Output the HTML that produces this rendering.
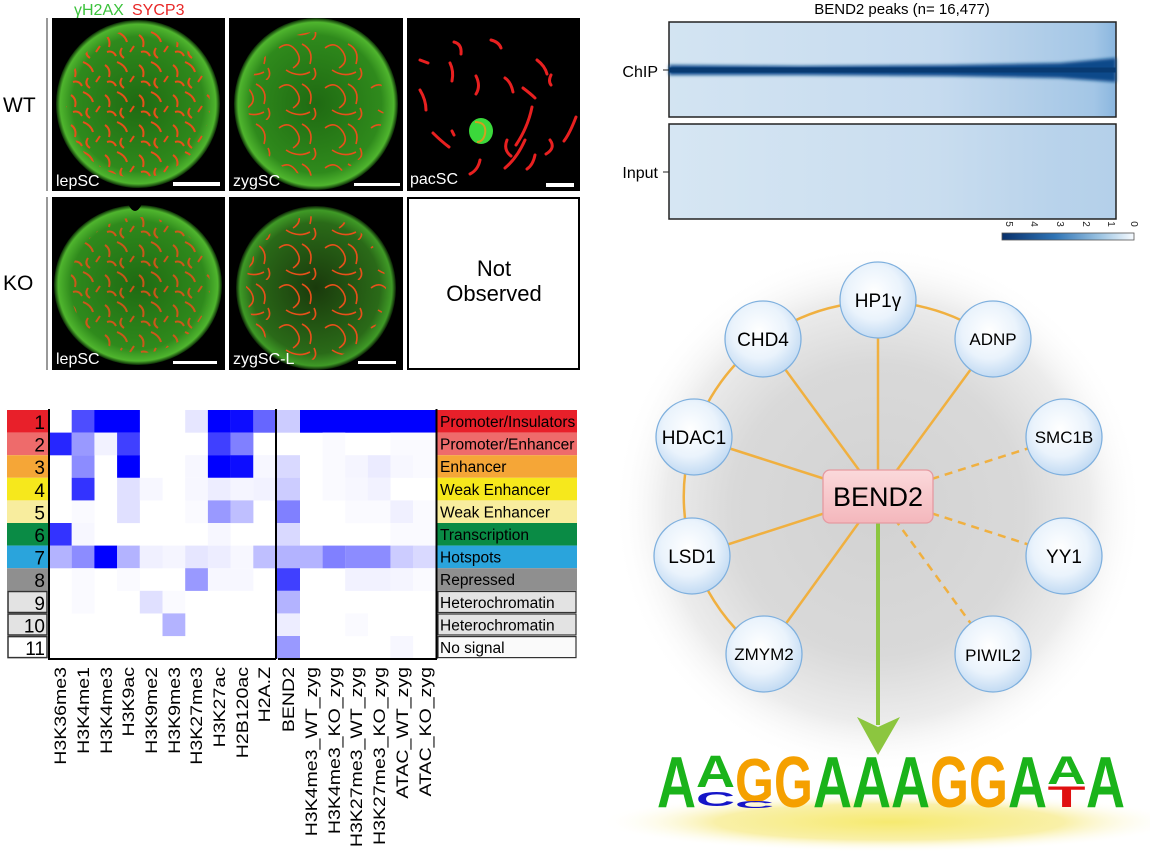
<!DOCTYPE html>
<html><head><meta charset="utf-8"><style>
html,body{margin:0;padding:0;background:#fff;}
svg{display:block;}
</style></head><body>
<svg width="1150" height="851" viewBox="0 0 1150 851" xmlns="http://www.w3.org/2000/svg" font-family="Liberation Sans, Arial, sans-serif">
<defs>
<radialGradient id="glow" cx="878" cy="510" r="265" gradientUnits="userSpaceOnUse">
<stop offset="0" stop-color="#d2d2d2"/><stop offset="0.55" stop-color="#d9d9d9"/><stop offset="0.8" stop-color="#ececec"/><stop offset="1" stop-color="#ffffff" stop-opacity="0"/>
</radialGradient>
<radialGradient id="node" cx="0.45" cy="0.4" r="0.6">
<stop offset="0" stop-color="#ffffff"/><stop offset="0.6" stop-color="#eaf3fc"/><stop offset="1" stop-color="#c3dbf3"/>
</radialGradient>
<linearGradient id="bend" x1="0" y1="0" x2="0" y2="1">
<stop offset="0" stop-color="#fbd9db"/><stop offset="1" stop-color="#f4b7bc"/>
</linearGradient>
<radialGradient id="yel" cx="0.5" cy="0.5" r="0.5">
<stop offset="0" stop-color="#f6ea70"/><stop offset="0.6" stop-color="#f9f0a8"/><stop offset="1" stop-color="#ffffff" stop-opacity="0"/>
</radialGradient>
<radialGradient id="gblob" cx="0.5" cy="0.5" r="0.5">
<stop offset="0" stop-color="#1f6a12"/><stop offset="0.8" stop-color="#2f8a1c"/><stop offset="0.95" stop-color="#4fb52e"/><stop offset="1" stop-color="#0a2a05"/>
</radialGradient>
<radialGradient id="gblob2" cx="0.5" cy="0.5" r="0.5">
<stop offset="0" stop-color="#1a3a0c"/><stop offset="0.8" stop-color="#2a6a18"/><stop offset="0.95" stop-color="#3f9a26"/><stop offset="1" stop-color="#0a2005"/>
</radialGradient>
<pattern id="sq" width="34" height="30" patternUnits="userSpaceOnUse">
<g fill="none" stroke="#e8501a" stroke-width="2">
<path d="M3 5 q6 4 4 12"/><path d="M15 2 q8 3 10 10"/><path d="M20 18 q-4 6 2 10"/><path d="M5 22 q6 -2 9 4"/><path d="M28 22 l4 -6"/>
</g></pattern>
<pattern id="sq2" width="46" height="40" patternUnits="userSpaceOnUse">
<g fill="none" stroke="#e8501a" stroke-width="1.6">
<path d="M3 8 q10 -8 18 4 q6 10 -4 16"/><path d="M26 4 q12 6 8 20"/><path d="M10 30 q12 8 24 2"/><path d="M38 28 q4 8 -2 12"/>
</g></pattern>
<linearGradient id="chip" x1="0" y1="0" x2="1" y2="0">
<stop offset="0" stop-color="#d3e4f2"/><stop offset="0.6" stop-color="#c6dbef"/><stop offset="0.8" stop-color="#b3cfe9"/><stop offset="0.95" stop-color="#a3c6e6"/><stop offset="1" stop-color="#8ab6df"/>
</linearGradient>
<linearGradient id="inp" x1="0" y1="0" x2="1" y2="0">
<stop offset="0" stop-color="#d6e6f3"/><stop offset="0.6" stop-color="#c9ddef"/><stop offset="0.85" stop-color="#b9d3eb"/><stop offset="1" stop-color="#b4d0ea"/>
</linearGradient>
<linearGradient id="cbar" x1="0" y1="0" x2="1" y2="0">
<stop offset="0" stop-color="#08306b"/><stop offset="0.4" stop-color="#2f74b5"/><stop offset="0.75" stop-color="#9ec5e3"/><stop offset="1" stop-color="#f7fbff"/>
</linearGradient>
<filter id="blur2"><feGaussianBlur stdDeviation="1.5"/></filter>
</defs>

<circle cx="878" cy="510" r="265" fill="url(#glow)"/>

<!-- ===== micrographs ===== -->
<text x="74" y="15" font-size="16" fill="#3cc23c">γH2AX</text>
<text x="132" y="15" font-size="16" fill="#e82828">SYCP3</text>
<text x="3" y="112" font-size="21" fill="#000">WT</text>
<text x="3" y="290" font-size="21" fill="#000">KO</text>
<rect x="46" y="18" width="2" height="173" fill="#999"/>
<rect x="46" y="197" width="2" height="173" fill="#999"/>

<rect x="52" y="18" width="173" height="173" fill="#000"/>
<ellipse cx="138" cy="104" rx="82" ry="84" fill="url(#gblob)"/>
<ellipse cx="138" cy="104" rx="72" ry="74" fill="url(#sq)"/>
<text x="56" y="186" font-size="16" fill="#fff">lepSC</text>
<rect x="173" y="182" width="47" height="4" fill="#fff"/>

<rect x="229" y="18" width="174" height="173" fill="#000"/>
<ellipse cx="316" cy="104" rx="82" ry="86" fill="url(#gblob)"/>
<ellipse cx="316" cy="104" rx="68" ry="72" fill="url(#sq2)"/>
<text x="233" y="186" font-size="16" fill="#fff">zygSC</text>
<rect x="354" y="183" width="46" height="3" fill="#fff"/>

<rect x="407" y="18" width="173" height="173" fill="#000"/>
<g fill="none" stroke="#e82020" stroke-width="3" stroke-linecap="round">
<path d="M420 60 l8 3"/><path d="M454 42 q8 2 7 12"/><path d="M491 40 q8 2 10 8"/><path d="M537 60 q8 6 10 14"/><path d="M551 75 q-3 6 0 10"/>
<path d="M450 63 q4 8 2 18"/><path d="M476 76 q5 10 0 18"/><path d="M505 78 q6 4 8 14"/><path d="M523 88 q8 6 12 10"/><path d="M420 90 q6 10 6 20"/>
<path d="M433 133 q8 8 16 14"/><path d="M532 107 q-4 20 -16 38"/><path d="M576 117 q-6 16 -12 24"/><path d="M507 140 q-4 10 4 16"/><path d="M525 140 q-8 18 -20 28"/>
<path d="M550 140 q6 8 -4 14"/><path d="M480 160 q-2 10 -10 14"/><path d="M535 155 q-2 10 -8 14"/><path d="M452 131 l2 4"/>
</g>
<ellipse cx="481" cy="131" rx="12" ry="13" fill="#3bd83b"/>
<path d="M475 122 q12 0 10 12 q-2 8 -8 8" fill="none" stroke="#d0a020" stroke-width="2"/>
<text x="410" y="184" font-size="16" fill="#fff">pacSC</text>
<rect x="546" y="183" width="28" height="4" fill="#fff"/>

<rect x="52" y="197" width="173" height="173" fill="#000"/>
<ellipse cx="138" cy="285" rx="84" ry="80" fill="url(#gblob)"/>
<ellipse cx="140" cy="285" rx="70" ry="68" fill="url(#sq)" opacity="0.85"/>
<path d="M128 204 q7 14 14 0z" fill="#000"/>
<text x="56" y="364" font-size="16" fill="#fff">lepSC</text>
<rect x="173" y="361" width="44" height="3" fill="#fff"/>

<rect x="229" y="197" width="174" height="173" fill="#000"/>
<ellipse cx="316" cy="288" rx="80" ry="82" fill="url(#gblob2)"/>
<ellipse cx="316" cy="288" rx="70" ry="72" fill="url(#sq2)"/>
<text x="233" y="364" font-size="16" fill="#fff">zygSC-L</text>
<rect x="358" y="361" width="38" height="3" fill="#fff"/>

<rect x="408" y="198" width="171" height="171" fill="#fff" stroke="#000" stroke-width="2"/>
<text x="494" y="276" font-size="22" text-anchor="middle">Not</text>
<text x="494" y="301" font-size="22" text-anchor="middle">Observed</text>

<!-- ===== ChIP heatmap ===== -->
<text x="902" y="14" font-size="15" text-anchor="middle">BEND2 peaks (n= 16,477)</text>
<rect x="669" y="22" width="447" height="95" fill="url(#chip)" stroke="#222" stroke-width="1.5"/>
<polygon points="669,65 800,66 950,65 1060,63 1116,58 1116,82 1060,78 950,76 800,75 669,75" fill="#0d4a8a" filter="url(#blur2)"/>
<line x1="669" y1="70" x2="1116" y2="70" stroke="#083a72" stroke-width="5"/>
<rect x="669" y="124" width="447" height="95" fill="url(#inp)" stroke="#222" stroke-width="1.5"/>
<text x="658" y="77" font-size="16" text-anchor="end">ChIP</text>
<text x="658" y="178" font-size="16" text-anchor="end">Input</text>
<line x1="663" y1="70" x2="669" y2="70" stroke="#222"/>
<line x1="663" y1="172" x2="669" y2="172" stroke="#222"/>
<rect x="1002" y="233" width="132" height="7" fill="url(#cbar)" stroke="#555" stroke-width="0.8"/>
<g font-size="10" fill="#222">
<text transform="translate(1006,224) rotate(90)" text-anchor="middle">5</text>
<text transform="translate(1031,224) rotate(90)" text-anchor="middle">4</text>
<text transform="translate(1057,224) rotate(90)" text-anchor="middle">3</text>
<text transform="translate(1083,224) rotate(90)" text-anchor="middle">2</text>
<text transform="translate(1108,224) rotate(90)" text-anchor="middle">1</text>
<text transform="translate(1131,224) rotate(90)" text-anchor="middle">0</text>
</g>

<!-- ===== network ===== -->
<path d="M764,654 A192,192 0 1 1 993,339" fill="none" stroke="#f0b040" stroke-width="2.5"/>
<g stroke="#f0b040" stroke-width="2.5">
<line x1="878" y1="490" x2="878" y2="300"/>
<line x1="878" y1="496" x2="763" y2="339"/>
<line x1="878" y1="496" x2="993" y2="339"/>
<line x1="878" y1="496" x2="694" y2="437"/>
<line x1="878" y1="496" x2="692" y2="556"/>
<line x1="878" y1="496" x2="764" y2="654"/>
</g>
<g stroke="#f0b040" stroke-width="2.5" stroke-dasharray="8,6">
<line x1="878" y1="496" x2="1064" y2="437"/>
<line x1="878" y1="496" x2="1064" y2="556"/>
<line x1="878" y1="496" x2="993" y2="654"/>
</g>
<line x1="878" y1="523" x2="878" y2="725" stroke="#8cc63f" stroke-width="4"/>
<polygon points="857,717 878,727 900,717 878,755" fill="#8cc63f"/>
<g stroke="#7fb0de" stroke-width="1.3" fill="url(#node)">
<circle cx="878" cy="300" r="38"/><circle cx="763" cy="339" r="38"/><circle cx="993" cy="339" r="38"/>
<circle cx="694" cy="437" r="38"/><circle cx="1064" cy="437" r="38"/><circle cx="692" cy="556" r="38"/>
<circle cx="1064" cy="556" r="38"/><circle cx="764" cy="654" r="38"/><circle cx="993" cy="654" r="38"/>
</g>
<rect x="823" y="470" width="110" height="53" rx="7" fill="url(#bend)" stroke="#e59aa1" stroke-width="1.3"/>
<text x="878" y="506" font-size="27" text-anchor="middle">BEND2</text>
<g font-size="19" text-anchor="middle">
<text x="878" y="307">HP1γ</text><text x="763" y="346">CHD4</text><text x="993" y="345" font-size="17">ADNP</text>
<text x="694" y="444">HDAC1</text><text x="1064" y="443" font-size="17">SMC1B</text><text x="692" y="563">LSD1</text>
<text x="1064" y="563">YY1</text><text x="764" y="660" font-size="17">ZMYM2</text><text x="993" y="661" font-size="17">PIWIL2</text>
</g>

<!-- ===== motif ===== -->
<ellipse cx="890" cy="822" rx="290" ry="30" fill="url(#yel)"/>
<g font-weight="bold" font-size="100" text-anchor="middle">
<text transform="translate(676.5,807) scale(0.54,0.726)" fill="#1ab31a">A</text>
<text transform="translate(715.5,787) scale(0.54,0.45)" fill="#1ab31a">A</text>
<text transform="translate(715.5,806) scale(0.54,0.2)" fill="#1515c8">C</text>
<text transform="translate(754.5,802) scale(0.5,0.62)" fill="#f5a000">G</text>
<text transform="translate(754.5,808) scale(0.54,0.1)" fill="#1515c8">C</text>
<text transform="translate(793.5,807) scale(0.5,0.726)" fill="#f5a000">G</text>
<text transform="translate(832.5,807) scale(0.54,0.726)" fill="#1ab31a">A</text>
<text transform="translate(871.5,807) scale(0.54,0.726)" fill="#1ab31a">A</text>
<text transform="translate(910.5,807) scale(0.54,0.726)" fill="#1ab31a">A</text>
<text transform="translate(949.5,807) scale(0.5,0.726)" fill="#f5a000">G</text>
<text transform="translate(988.5,807) scale(0.5,0.726)" fill="#f5a000">G</text>
<text transform="translate(1027.5,807) scale(0.54,0.726)" fill="#1ab31a">A</text>
<text transform="translate(1066.5,784) scale(0.54,0.4)" fill="#1ab31a">A</text>
<text transform="translate(1066.5,807) scale(0.62,0.3)" fill="#e01010">T</text>
<text transform="translate(1105.5,807) scale(0.54,0.726)" fill="#1ab31a">A</text>
</g>

<!-- ===== chromatin state heatmap ===== -->
<g font-size="19" text-anchor="end">
<rect x="7" y="410" width="41" height="22.6" fill="#e8202a"/><text x="45" y="429">1</text>
<rect x="7" y="432.6" width="41" height="22.6" fill="#ee6b6b"/><text x="45" y="451.6">2</text>
<rect x="7" y="455.2" width="41" height="22.6" fill="#f5a637"/><text x="45" y="474.2">3</text>
<rect x="7" y="477.8" width="41" height="22.6" fill="#f6e81c"/><text x="45" y="496.8">4</text>
<rect x="7" y="500.4" width="41" height="22.6" fill="#f8ed9e"/><text x="45" y="519.4">5</text>
<rect x="7" y="523" width="41" height="22.6" fill="#0a8b45"/><text x="45" y="542">6</text>
<rect x="7" y="545.6" width="41" height="22.6" fill="#2aa4dc"/><text x="45" y="564.6">7</text>
<rect x="7" y="568.2" width="41" height="22.6" fill="#8f8f8f"/><text x="45" y="587.2">8</text>
<rect x="8" y="591.5" width="39" height="21" fill="#e3e3e3" stroke="#333" stroke-width="1.5"/><text x="45" y="609.8">9</text>
<rect x="8" y="614" width="39" height="21" fill="#e3e3e3" stroke="#333" stroke-width="1.5"/><text x="45" y="632.4">10</text>
<rect x="8" y="636.6" width="39" height="21" fill="#fff" stroke="#333" stroke-width="1.5"/><text x="45" y="655">11</text>
</g>
<g font-size="15.5">
<rect x="437" y="410" width="140" height="22.6" fill="#e8202a"/><text x="440" y="427">Promoter/Insulators</text>
<rect x="437" y="432.6" width="140" height="22.6" fill="#ee6b6b"/><text x="440" y="449.6">Promoter/Enhancer</text>
<rect x="437" y="455.2" width="140" height="22.6" fill="#f5a637"/><text x="440" y="472.2">Enhancer</text>
<rect x="437" y="477.8" width="140" height="22.6" fill="#f6e81c"/><text x="440" y="494.8">Weak Enhancer</text>
<rect x="437" y="500.4" width="140" height="22.6" fill="#f8ed9e"/><text x="440" y="517.4">Weak Enhancer</text>
<rect x="437" y="523" width="140" height="22.6" fill="#0a8b45"/><text x="440" y="540">Transcription</text>
<rect x="437" y="545.6" width="140" height="22.6" fill="#2aa4dc"/><text x="440" y="562.6">Hotspots</text>
<rect x="437" y="568.2" width="140" height="22.6" fill="#8f8f8f"/><text x="440" y="585.2">Repressed</text>
<rect x="438" y="591.5" width="138" height="21" fill="#e3e3e3" stroke="#333" stroke-width="1.2"/><text x="440" y="607.8">Heterochromatin</text>
<rect x="438" y="614" width="138" height="21" fill="#e3e3e3" stroke="#333" stroke-width="1.2"/><text x="440" y="630.4">Heterochromatin</text>
<rect x="438" y="636.6" width="138" height="21" fill="#fafafa" stroke="#333" stroke-width="1.2"/><text x="440" y="653">No signal</text>
</g>
<!-- cells -->
<g transform="translate(0,410)">
<rect x="71.7" width="22.8" height="22.7" fill="rgb(77,77,255)"/><rect x="94.4" width="45.5" height="22.7" fill="#00f"/>
<rect x="185.2" width="22.8" height="22.7" fill="rgb(230,230,255)"/><rect x="207.9" width="22.8" height="22.7" fill="#00f"/>
<rect x="230.6" width="22.8" height="22.7" fill="rgb(13,13,255)"/><rect x="253.3" width="22.7" height="22.7" fill="rgb(102,102,255)"/>
<rect x="277" width="23" height="22.7" fill="rgb(204,204,255)"/><rect x="300" width="135.6" height="22.7" fill="#00f"/>
</g>
<g transform="translate(0,432.6)">
<rect x="49" width="22.8" height="22.7" fill="rgb(38,38,255)"/><rect x="71.7" width="22.8" height="22.7" fill="rgb(153,153,255)"/>
<rect x="94.4" width="22.8" height="22.7" fill="rgb(242,242,255)"/><rect x="117.1" width="22.8" height="22.7" fill="rgb(64,64,255)"/>
<rect x="207.9" width="22.8" height="22.7" fill="rgb(64,64,255)"/><rect x="230.6" width="22.8" height="22.7" fill="rgb(128,128,255)"/>
<rect x="322.6" width="22.7" height="22.7" fill="rgb(250,250,255)"/><rect x="390.4" width="45.2" height="22.7" fill="rgb(250,250,255)"/>
</g>
<g transform="translate(0,455.2)">
<rect x="71.7" width="22.8" height="22.7" fill="rgb(140,140,255)"/><rect x="117.1" width="22.8" height="22.7" fill="#00f"/>
<rect x="185.2" width="22.8" height="22.7" fill="rgb(247,247,255)"/><rect x="207.9" width="22.8" height="22.7" fill="#00f"/>
<rect x="230.6" width="22.8" height="22.7" fill="rgb(13,13,255)"/><rect x="253.3" width="22.7" height="22.7" fill="rgb(247,247,255)"/>
<rect x="277" width="23" height="22.7" fill="rgb(217,217,255)"/><rect x="322.6" width="22.7" height="22.7" fill="rgb(250,250,255)"/>
<rect x="345.2" width="22.7" height="22.7" fill="rgb(245,245,255)"/><rect x="367.8" width="22.7" height="22.7" fill="rgb(235,235,255)"/>
<rect x="390.4" width="22.7" height="22.7" fill="rgb(247,247,255)"/><rect x="413" width="22.6" height="22.7" fill="rgb(250,250,255)"/>
</g>
<g transform="translate(0,477.8)">
<rect x="71.7" width="22.8" height="22.7" fill="rgb(51,51,255)"/><rect x="117.1" width="22.8" height="22.7" fill="rgb(224,224,255)"/>
<rect x="139.8" width="22.8" height="22.7" fill="rgb(247,247,255)"/><rect x="185.2" width="22.8" height="22.7" fill="rgb(247,247,255)"/>
<rect x="207.9" width="22.8" height="22.7" fill="rgb(237,237,255)"/><rect x="230.6" width="22.8" height="22.7" fill="rgb(245,245,255)"/>
<rect x="253.3" width="22.7" height="22.7" fill="rgb(242,242,255)"/><rect x="277" width="23" height="22.7" fill="rgb(204,204,255)"/>
<rect x="322.6" width="22.7" height="22.7" fill="rgb(250,250,255)"/><rect x="345.2" width="22.7" height="22.7" fill="rgb(247,247,255)"/>
<rect x="367.8" width="22.7" height="22.7" fill="rgb(242,242,255)"/>
</g>
<g transform="translate(0,500.4)">
<rect x="71.7" width="22.8" height="22.7" fill="rgb(250,250,255)"/><rect x="117.1" width="22.8" height="22.7" fill="rgb(224,224,255)"/>
<rect x="185.2" width="22.8" height="22.7" fill="rgb(250,250,255)"/><rect x="207.9" width="22.8" height="22.7" fill="rgb(153,153,255)"/>
<rect x="230.6" width="22.8" height="22.7" fill="rgb(191,191,255)"/><rect x="277" width="23" height="22.7" fill="rgb(128,128,255)"/>
<rect x="345.2" width="45.3" height="22.7" fill="rgb(250,250,255)"/><rect x="390.4" width="22.7" height="22.7" fill="rgb(240,240,255)"/>
<rect x="413" width="22.6" height="22.7" fill="rgb(250,250,255)"/>
</g>
<g transform="translate(0,523)">
<rect x="49" width="22.8" height="22.7" fill="rgb(51,51,255)"/><rect x="71.7" width="22.8" height="22.7" fill="rgb(247,247,255)"/>
<rect x="207.9" width="22.8" height="22.7" fill="rgb(247,247,255)"/><rect x="277" width="23" height="22.7" fill="rgb(217,217,255)"/>
<rect x="390.4" width="45.2" height="22.7" fill="rgb(250,250,255)"/>
</g>
<g transform="translate(0,545.6)">
<rect x="49" width="22.8" height="22.7" fill="rgb(179,179,255)"/><rect x="71.7" width="22.8" height="22.7" fill="rgb(140,140,255)"/>
<rect x="94.4" width="22.8" height="22.7" fill="#00f"/><rect x="117.1" width="22.8" height="22.7" fill="rgb(179,179,255)"/>
<rect x="139.8" width="22.8" height="22.7" fill="rgb(240,240,255)"/><rect x="162.5" width="22.8" height="22.7" fill="rgb(245,245,255)"/>
<rect x="185.2" width="22.8" height="22.7" fill="rgb(230,230,255)"/><rect x="207.9" width="22.8" height="22.7" fill="rgb(237,237,255)"/>
<rect x="230.6" width="22.8" height="22.7" fill="rgb(247,247,255)"/><rect x="253.3" width="22.7" height="22.7" fill="rgb(191,191,255)"/>
<rect x="277" width="23" height="22.7" fill="rgb(179,179,255)"/><rect x="300" width="22.7" height="22.7" fill="rgb(179,179,255)"/>
<rect x="322.6" width="22.7" height="22.7" fill="rgb(128,128,255)"/><rect x="345.2" width="45.3" height="22.7" fill="rgb(140,140,255)"/>
<rect x="390.4" width="22.7" height="22.7" fill="rgb(204,204,255)"/><rect x="413" width="22.6" height="22.7" fill="rgb(217,217,255)"/>
</g>
<g transform="translate(0,568.2)">
<rect x="71.7" width="22.8" height="22.7" fill="rgb(250,250,255)"/><rect x="117.1" width="22.8" height="22.7" fill="rgb(250,250,255)"/>
<rect x="185.2" width="22.8" height="22.7" fill="rgb(153,153,255)"/><rect x="207.9" width="45.5" height="22.7" fill="rgb(247,247,255)"/>
<rect x="277" width="23" height="22.7" fill="rgb(64,64,255)"/><rect x="345.2" width="45.3" height="22.7" fill="rgb(242,242,255)"/>
<rect x="390.4" width="22.7" height="22.7" fill="rgb(245,245,255)"/><rect x="413" width="22.6" height="22.7" fill="rgb(250,250,255)"/>
</g>
<g transform="translate(0,590.8)">
<rect x="71.7" width="22.8" height="22.7" fill="rgb(250,250,255)"/><rect x="139.8" width="22.8" height="22.7" fill="rgb(224,224,255)"/>
<rect x="162.5" width="22.8" height="22.7" fill="rgb(250,250,255)"/><rect x="277" width="23" height="22.7" fill="rgb(179,179,255)"/>
</g>
<g transform="translate(0,613.4)">
<rect x="162.5" width="22.8" height="22.7" fill="rgb(179,179,255)"/><rect x="277" width="23" height="22.7" fill="rgb(237,237,255)"/>
<rect x="345.2" width="22.7" height="22.7" fill="rgb(250,250,255)"/>
</g>
<g transform="translate(0,636)">
<rect x="277" width="23" height="22.6" fill="rgb(153,153,255)"/><rect x="390.4" width="22.7" height="22.6" fill="rgb(247,247,255)"/>
</g>
<g stroke="#000" stroke-width="2">
<line x1="49" y1="409" x2="49" y2="659"/><line x1="276" y1="409" x2="276" y2="659"/><line x1="436.5" y1="409" x2="436.5" y2="659"/>
<line x1="48" y1="659" x2="276" y2="659"/><line x1="278" y1="659" x2="437" y2="659"/>
</g>
<!-- column labels -->
<g font-size="17" text-anchor="end">
<text transform="translate(66,667) rotate(-90) scale(1.15,1)">H3K36me3</text>
<text transform="translate(89,667) rotate(-90) scale(1.15,1)">H3K4me1</text>
<text transform="translate(112,667) rotate(-90) scale(1.15,1)">H3K4me3</text>
<text transform="translate(134,667) rotate(-90) scale(1.15,1)">H3K9ac</text>
<text transform="translate(157,667) rotate(-90) scale(1.15,1)">H3K9me2</text>
<text transform="translate(180,667) rotate(-90) scale(1.15,1)">H3K9me3</text>
<text transform="translate(202,667) rotate(-90) scale(1.15,1)">H3K27me3</text>
<text transform="translate(225,667) rotate(-90) scale(1.15,1)">H3K27ac</text>
<text transform="translate(248,667) rotate(-90) scale(1.15,1)">H2B120ac</text>
<text transform="translate(270,667) rotate(-90) scale(1.15,1)">H2A.Z</text>
<text transform="translate(294,667) rotate(-90) scale(1.15,1)">BEND2</text>
<text transform="translate(317,667) rotate(-90) scale(1.15,1)">H3K4me3_WT_zyg</text>
<text transform="translate(340,667) rotate(-90) scale(1.15,1)">H3K4me3_KO_zyg</text>
<text transform="translate(362,667) rotate(-90) scale(1.15,1)">H3K27me3_WT_zyg</text>
<text transform="translate(385,667) rotate(-90) scale(1.15,1)">H3K27me3_KO_zyg</text>
<text transform="translate(408,667) rotate(-90) scale(1.15,1)">ATAC_WT_zyg</text>
<text transform="translate(431,667) rotate(-90) scale(1.15,1)">ATAC_KO_zyg</text>
</g>
</svg>
</body></html>
